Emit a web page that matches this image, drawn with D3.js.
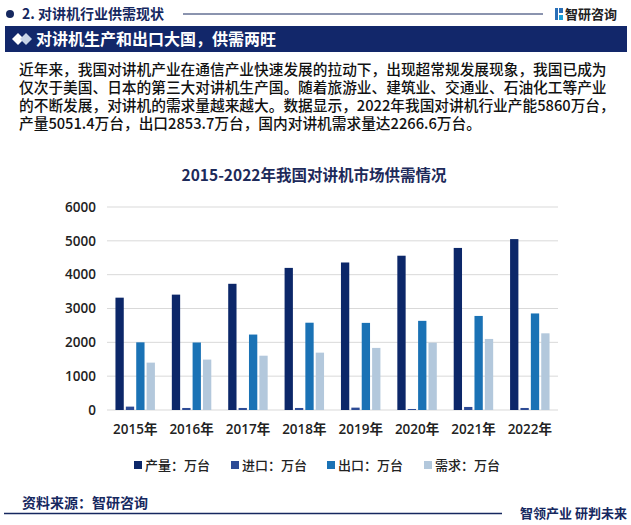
<!DOCTYPE html>
<html><head><meta charset="utf-8">
<script src="https://cdn.jsdelivr.net/npm/d3@7"></script>
<style>
html,body{margin:0;padding:0;background:#fff;}
body{position:relative;width:631px;height:525px;overflow:hidden;}
svg{display:block;font-family:"Noto Sans CJK SC","Noto Sans",sans-serif;}
#para{position:absolute;left:19px;top:59.6px;font-family:"Noto Sans CJK SC","Noto Sans",sans-serif;
  font-size:14.7px;line-height:18px;color:#111;font-weight:500;white-space:nowrap;}
#para div{height:18px;}
</style></head>
<body>
<div id="para"></div>
<script>
const years = ["2015年","2016年","2017年","2018年","2019年","2020年","2021年","2022年"];
const seriesNames = ["产量：万台","进口：万台","出口：万台","需求：万台"];
const production = [3320, 3410, 3730, 4200, 4360, 4560, 4790, 5051.4];
const imports = [100, 60, 60, 60, 70, 30, 90, 60];
const exports_ = [2000, 1995, 2230, 2580, 2575, 2635, 2780, 2853.7];
const demand = [1400, 1490, 1605, 1695, 1835, 1990, 2100, 2266.6];
const yTicks = [0, 1000, 2000, 3000, 4000, 5000, 6000];
const colors = ["#0c2769", "#2d4b95", "#1a72b5", "#b3c8dc"];
const paragraph = [
  "近年来，我国对讲机产业在通信产业快速发展的拉动下，出现超常规发展现象，我国已成为",
  "仅次于美国、日本的第三大对讲机生产国。随着旅游业、建筑业、交通业、石油化工等产业",
  "的不断发展，对讲机的需求量越来越大。数据显示，2022年我国对讲机行业产能5860万台，",
  "产量5051.4万台，出口2853.7万台，国内对讲机需求量达2266.6万台。"
];
const series = [production, imports, exports_, demand];

const W = 631, H = 525;
const svg = d3.select("body").insert("svg", "#para").attr("width", W).attr("height", H);
const navy = "#16285f";

// header
svg.append("circle").attr("cx", 10).attr("cy", 14).attr("r", 4).attr("fill", navy);
svg.append("text").attr("x", 22).attr("y", 19).attr("font-size", 14).attr("font-weight", 700)
  .attr("fill", navy).text("2. 对讲机行业供需现状");
svg.append("line").attr("x1", 183).attr("x2", 543).attr("y1", 14).attr("y2", 14)
  .attr("stroke", navy).attr("stroke-width", 1);
// logo icon
const lg = svg.append("g").attr("transform", "translate(555,8)");
lg.append("rect").attr("x", 0).attr("y", 0).attr("width", 3).attr("height", 12).attr("fill", "#2a6fb8");
lg.append("rect").attr("x", 4).attr("y", 0).attr("width", 4).attr("height", 5).attr("fill", "#2a6fb8");
lg.append("rect").attr("x", 4).attr("y", 7).attr("width", 4).attr("height", 5).attr("fill", "#1aa0d8");
svg.append("text").attr("x", 565).attr("y", 19).attr("font-size", 13).attr("font-weight", 700)
  .attr("fill", "#222").text("智研咨询");

// banner
svg.append("rect").attr("x", 5).attr("y", 26).attr("width", 622).attr("height", 26).attr("fill", "#12276a");
const dm = svg.append("g").attr("transform", "translate(0,39)");
dm.append("path").attr("d", "M12,0 L18,-6 L24,0 L18,6 Z").attr("fill", "#ffffff");
dm.append("path").attr("d", "M20,0 L26,-6 L32,0 L26,6 Z").attr("fill", "#c8d3e6");
svg.append("text").attr("x", 36).attr("y", 45).attr("font-size", 16).attr("font-weight", 700)
  .attr("fill", "#fff").text("对讲机生产和出口大国，供需两旺");

// paragraph (HTML lines)
d3.select("#para").selectAll("div").data(paragraph).join("div").text(d => d);

// title
svg.append("text").attr("x", 314).attr("y", 181).attr("text-anchor", "middle")
  .attr("font-size", 15.5).attr("font-weight", 700).attr("fill", "#1d2a5a")
  .text("2015-2022年我国对讲机市场供需情况");

// chart
const x0 = d3.scaleBand().domain(years).range([107, 558]).paddingInner(0.3).paddingOuter(0.15);
const x1 = d3.scaleBand().domain(d3.range(4)).range([0, x0.bandwidth()]).paddingInner(0.2);
const y = d3.scaleLinear().domain([0, 6000]).range([410, 207]);

const grid = svg.append("g");
yTicks.forEach(t => {
  grid.append("line").attr("x1", 107).attr("x2", 558).attr("y1", y(t)).attr("y2", y(t))
    .attr("stroke", "#d9d9d9").attr("stroke-width", 1);
});

const yAxis = svg.append("g").attr("transform", "translate(96,0)")
  .call(d3.axisLeft(y).tickValues(yTicks).tickSize(0).tickPadding(0).tickFormat(d3.format("d")));
yAxis.select(".domain").remove();
yAxis.selectAll("text").attr("font-size", 13.5).attr("font-weight", 600).attr("fill", "#222")
  .attr("font-family", "'Open Sans','Noto Sans',sans-serif");

const groups = svg.append("g").selectAll("g").data(years).join("g")
  .attr("transform", d => `translate(${x0(d)},0)`);
groups.selectAll("rect").data((d, i) => series.map((s, k) => ({k, v: s[i]}))).join("rect")
  .attr("x", d => x1(d.k)).attr("width", x1.bandwidth())
  .attr("y", d => y(d.v)).attr("height", d => y(0) - y(d.v))
  .attr("fill", d => colors[d.k]);

const xAxis = svg.append("g").attr("transform", "translate(0,410)")
  .call(d3.axisBottom(x0).tickSize(0).tickPadding(14));
xAxis.select(".domain").remove();
xAxis.selectAll("text").attr("font-size", 13.5).attr("font-weight", 600).attr("fill", "#222")
  .attr("font-family", "'Open Sans','Noto Sans CJK SC',sans-serif");

// legend
const legX = [134, 231, 327, 424];
seriesNames.forEach((n, i) => {
  svg.append("rect").attr("x", legX[i]).attr("y", 461).attr("width", 8).attr("height", 8).attr("fill", colors[i]);
  svg.append("text").attr("x", legX[i] + 11).attr("y", 469.5).attr("font-size", 13).attr("font-weight", 500)
    .attr("fill", "#222").text(n);
});

// footer
svg.append("text").attr("x", 22).attr("y", 508).attr("font-size", 14).attr("font-weight", 700)
  .attr("fill", navy).text("资料来源：智研咨询");
svg.append("line").attr("x1", 4).attr("x2", 502).attr("y1", 513.5).attr("y2", 513.5)
  .attr("stroke", navy).attr("stroke-width", 1.5);
svg.append("text").attr("x", 520).attr("y", 518).attr("font-size", 13).attr("font-weight", 700)
  .attr("fill", navy).text("智领产业 研判未来");
</script>
</body></html>
